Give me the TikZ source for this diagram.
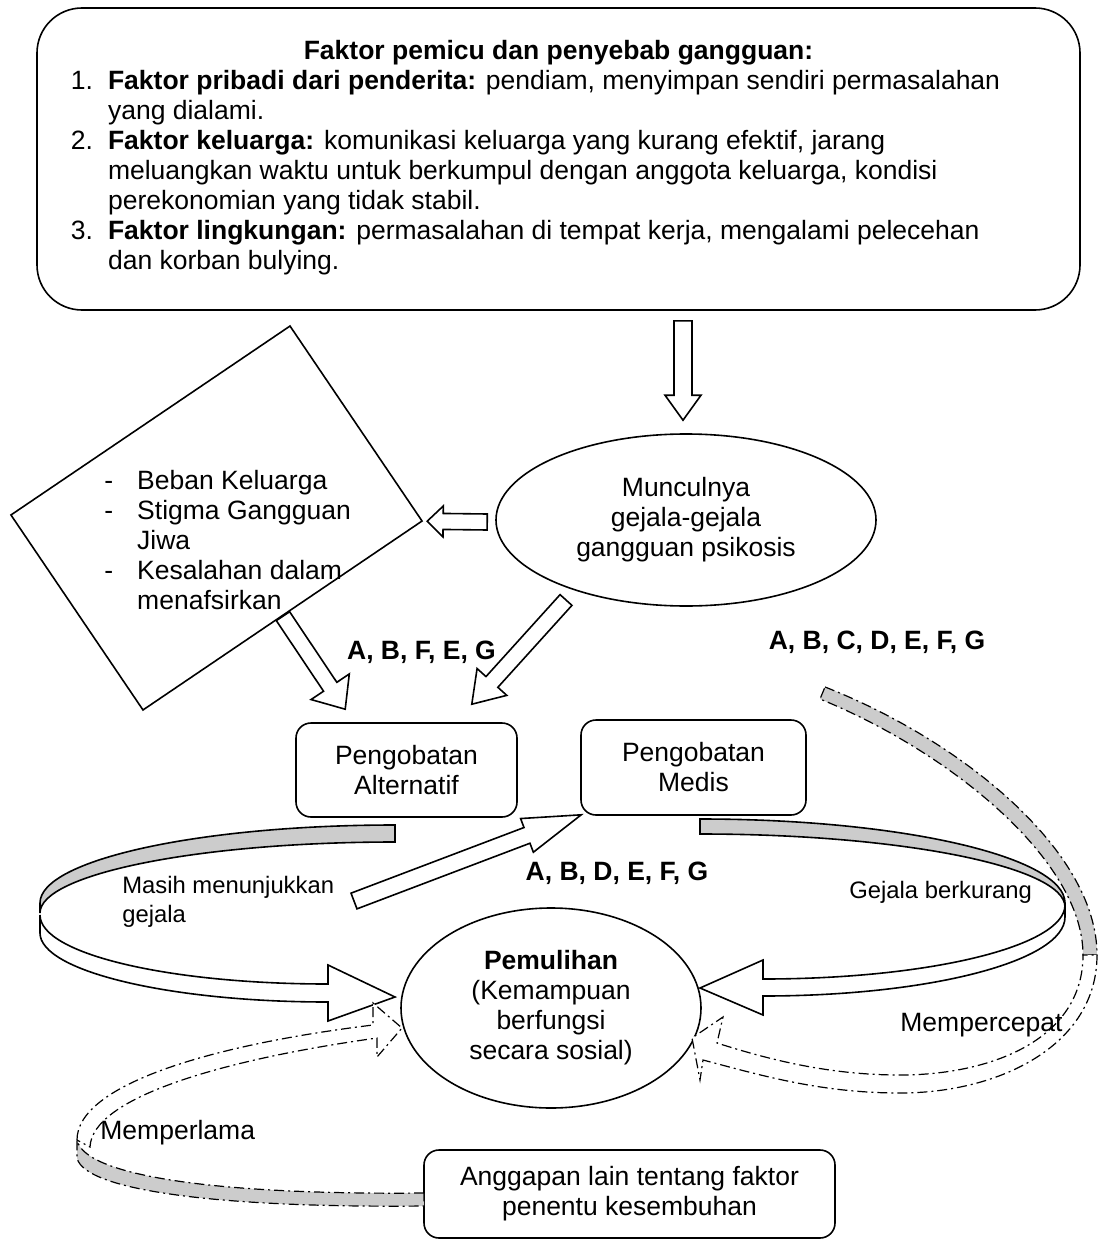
\documentclass[tikz,border=0pt]{standalone}
\usepackage{fontspec}
\setmainfont{Liberation Sans}
\usetikzlibrary{shapes,calc}

% hollow block arrow: tail, tip, half shaft, half head, head length
\newcommand{\blockarrow}[5]{%
  \path (#1) coordinate (ta) (#2) coordinate (tb);
  \path ($(tb)!#5!(ta)$) coordinate (th);
  \draw[hollow] ($(ta)!#3!90:(tb)$) -- ($(th)!#3!-90:(ta)$) -- ($(th)!#4!-90:(ta)$) -- (tb)
    -- ($(th)!#4!90:(ta)$) -- ($(th)!#3!90:(ta)$) -- ($(ta)!#3!-90:(tb)$) -- cycle;
}

\begin{document}
\begin{tikzpicture}[x=0.5pt,y=-0.5pt,
    every node/.style={font=\fontsize{13.25}{15}\selectfont},
    box/.style={draw, rounded corners=7.5pt, line width=0.8pt, inner sep=0pt},
    oval/.style={draw, ellipse, line width=0.8pt, inner sep=0pt, align=center},
    hollow/.style={draw, fill=white, line width=0.8pt, line join=miter},
    ribbon/.style={draw, line width=0.8pt},
    dashribbon/.style={draw, line width=0.6pt, dash pattern=on 5pt off 2pt on 1pt off 2pt},
    lbl/.style={inner sep=0pt},
    small/.style={font=\fontsize{11.9}{14.5}\selectfont}]
    \useasboundingbox (0,0) rectangle (1097,1241);

    % faktor pemicu
    \node[box, rounded corners=22.5pt, minimum width=521.5pt, minimum height=151pt] (pemicu) at (558.5,159) {%
      \begin{tabular}{@{}l@{\hspace{7.5pt}}p{469pt}@{}}
        \multicolumn{2}{c}{\textbf{Faktor pemicu dan penyebab gangguan:}}\\
        1. & \textbf{Faktor pribadi dari penderita:} pendiam, menyimpan sendiri permasalahan\\
           & yang dialami.\\
        2. & \textbf{Faktor keluarga:} komunikasi keluarga yang kurang efektif, jarang\\
           & meluangkan waktu untuk berkumpul dengan anggota keluarga, kondisi\\
           & perekonomian yang tidak stabil.\\
        3. & \textbf{Faktor lingkungan:} permasalahan di tempat kerja, mengalami pelecehan\\
           & dan korban bulying.
      \end{tabular}};

    % beban (tilted box)
    \node[draw, line width=0.8pt, rotate=34.1, minimum width=168.5pt, minimum height=117.75pt, inner sep=0pt] (beban) at (216.5,518) {};
    \node[lbl, anchor=west] (bebantext) at (104,543) {%
      \begin{tabular}{@{}l@{\hspace{12pt}}l@{}}
        - & Beban Keluarga\\
        - & Stigma Gangguan\\
          & Jiwa\\
        - & Kesalahan dalam\\
          & menafsirkan
      \end{tabular}};

    \node[oval, minimum width=190pt, minimum height=86pt] (munc) at (686,520) {Munculnya\\gejala-gejala\\gangguan psikosis};

    \node[box, align=center, minimum width=110.5pt, minimum height=47pt] (alt) at (406.5,770) {Pengobatan\\Alternatif};
    \node[box, align=center, minimum width=112.5pt, minimum height=47.5pt] (medis) at (693.5,767.5) {Pengobatan\\Medis};
    \node[oval, minimum width=150pt, minimum height=100pt] (pulih) at (551,1008) {\textbf{Pemulihan}\\(Kemampuan\\berfungsi\\secara sosial)};
    \node[box, align=center, minimum width=205.5pt, minimum height=44pt] (anggapan) at (629.5,1194) {Anggapan lain tentang faktor\\penentu kesembuhan};

    % loop left: alternatif -> pemulihan
    \draw[ribbon, fill=gray!40] (395,825) .. controls (199,825) and (40,860) .. (40,903) -- (40,913)
        .. controls (40,874) and (199,842) .. (395,842) -- cycle;
    \draw[ribbon, fill=white] (40,915) .. controls (40,954) and (169,984) .. (328,984) -- (328,965) -- (395,997)
        -- (328,1021) -- (328,1002) .. controls (169,1002) and (40,971) .. (40,933) -- cycle;

    % loop right: medis -> pemulihan
    \draw[ribbon, fill=gray!40] (700,819) .. controls (902,819) and (1065,857) .. (1065,903) -- (1065,907)
        .. controls (1065,867) and (902,834) .. (700,834) -- cycle;
    \draw[ribbon, fill=white] (1065,905) .. controls (1065,946) and (930,979) .. (763,979) -- (763,960) -- (700,988)
        -- (763,1015) -- (763,996) .. controls (930,996) and (1065,961) .. (1065,917) -- cycle;

    % mempercepat
    \draw[dashribbon, fill=gray!40] (825,687) .. controls (960,740) and (1097,850) .. (1097,955) -- (1083,955)
        .. controls (1083,860) and (950,752) .. (820,699) -- cycle;
    \draw[dashribbon, fill=white] (1097,955) .. controls (1097,1045) and (1000,1093) .. (900,1093)
        .. controls (820,1093) and (760,1075) .. (703,1060) -- (700,1080) -- (692,1038) -- (723,1017) -- (717,1043)
        .. controls (770,1060) and (830,1075) .. (900,1075) .. controls (990,1075) and (1083,1040) .. (1083,955) -- cycle;

    % memperlama
    \draw[dashribbon, fill=gray!40] (424,1193) .. controls (230,1195) and (85,1178) .. (77,1140) -- (77,1158)
        .. controls (85,1192) and (230,1208) .. (424,1206) -- cycle;
    \draw[dashribbon, fill=white] (77,1140) .. controls (77,1085) and (210,1045) .. (373,1025) -- (373,1003) -- (402,1028)
        -- (377,1057) -- (377,1038) .. controls (220,1060) and (92,1098) .. (90,1147) -- cycle;

    % straight block arrows
    \blockarrow{$(pemicu.south -| munc.north)+(-3,10)$}{$(munc.north)+(-3,-13)$}{4.5pt}{9pt}{12.5pt}
    \blockarrow{$(munc.west)+(-8,2)$}{$(beban.south east)+(4,0)$}{4pt}{7.75pt}{8pt}
    \blockarrow{beban.south}{$(alt.north west)+(50,-13)$}{4pt}{11.5pt}{13.5pt}
    \blockarrow{$(munc.center)+(-120,80)$}{$(alt.north east)+(-46,-18)$}{4pt}{10pt}{15pt}
    \coordinate (masihend) at (354,901);
    \blockarrow{masihend}{$(medis.south west)+(1,-1)$}{4.2pt}{9pt}{29pt}

    % labels
    \node[lbl] (kodealt) at (421.5,652) {\textbf{A, B, F, E, G}};
    \node[lbl] (kodesemua) at (877,642) {\textbf{A, B, C, D, E, F, G}};
    \node[lbl] (kodemedis) at (617,873) {\textbf{A, B, D, E, F, G}};
    \node[lbl, small, align=left, anchor=west] (masih) at (122,902) {Masih menunjukkan\\gejala};
    \node[lbl, small, anchor=west] (berkurang) at (849,892) {Gejala berkurang};
    \node[lbl, anchor=west] (cepat) at (900,1025) {Mempercepat};
    \node[lbl, anchor=west] (lama) at (100,1133) {Memperlama};
\end{tikzpicture}
\end{document}
